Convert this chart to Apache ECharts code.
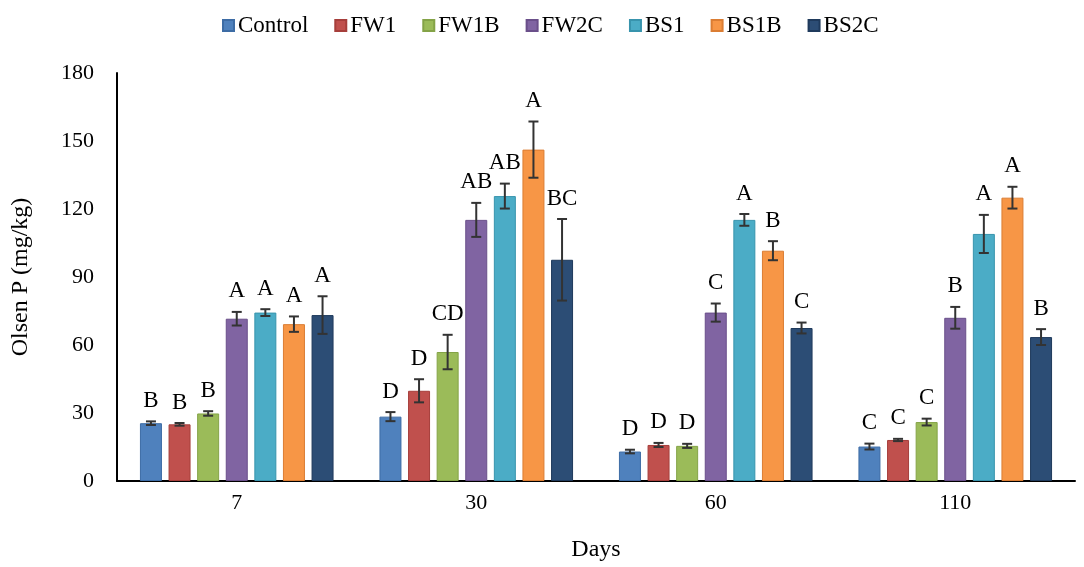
<!DOCTYPE html>
<html>
<head>
<meta charset="utf-8">
<script src="https://cdn.jsdelivr.net/npm/echarts@6/dist/echarts.min.js"></script>
<style>html,body{margin:0;padding:0;background:#fff}#c{width:1084px;height:567px}</style>
</head>
<body>
<div id="c"></div>
<script>
const categories = ['7', '30', '60', '110'];
const seriesNames = ['Control', 'FW1', 'FW1B', 'FW2C', 'BS1', 'BS1B', 'BS2C'];
const colors = ['#4F81BD', '#C0504D', '#9BBB59', '#8064A2', '#4BACC6', '#F79646', '#2C4D75'];
const borderColors = ['#3d6ca5', '#a63e3b', '#84a347', '#6a4f8a', '#3894ad', '#db7d33', '#1f3a5c'];

const Control = [25.5, 28.4, 13.0, 15.2];
const FW1     = [25.0, 39.8, 15.9, 18.1];
const FW1B    = [29.8, 56.9, 15.5, 26.0];
const FW2C    = [71.6, 115.2, 74.3, 72.0];
const BS1     = [74.3, 125.7, 115.2, 109.0];
const BS1B    = [69.2, 146.2, 101.6, 125.0];
const BS2C    = [73.2, 97.6, 67.5, 63.5];

const errControl = [0.8, 2.0, 0.8, 1.3];
const errFW1     = [0.6, 5.1, 0.9, 0.5];
const errFW1B    = [1.0, 7.6, 0.9, 1.5];
const errFW2C    = [3.0, 7.5, 4.0, 4.8];
const errBS1     = [1.5, 5.5, 2.6, 8.4];
const errBS1B    = [3.4, 12.4, 4.2, 4.8];
const errBS2C    = [8.3, 18.0, 2.4, 3.5];

const letControl = ['B', 'D', 'D', 'C'];
const letFW1     = ['B', 'D', 'D', 'C'];
const letFW1B    = ['B', 'CD', 'D', 'C'];
const letFW2C    = ['A', 'AB', 'C', 'B'];
const letBS1     = ['A', 'AB', 'A', 'A'];
const letBS1B    = ['A', 'A', 'B', 'A'];
const letBS2C    = ['A', 'BC', 'C', 'B'];

const values = [Control, FW1, FW1B, FW2C, BS1, BS1B, BS2C];
const errors = [errControl, errFW1, errFW1B, errFW2C, errBS1, errBS1B, errBS2C];
const letters = [letControl, letFW1, letFW1B, letFW2C, letBS1, letBS1B, letBS2C];

const FONT = '"Liberation Serif", "Times New Roman", serif';
const BAR_W = 22;
const BAR_GAP = 0.3;

const errData = [];
values.forEach((arr, si) => {
  arr.forEach((v, ci) => {
    errData.push([ci, si, v, errors[si][ci], letters[si][ci]]);
  });
});

const chart = echarts.init(document.getElementById('c'));
const barSeries = seriesNames.map((name, i) => ({
  name: name,
  type: 'bar',
  data: values[i],
  barWidth: BAR_W,
  barGap: (BAR_GAP * 100) + '%',
  itemStyle: { color: colors[i], borderColor: borderColors[i], borderWidth: 1 },
  z: 2
}));

chart.setOption({
  animation: false,
  legend: {
    data: seriesNames.map(n => ({ name: n, icon: 'rect' })),
    left: 217,
    top: 9,
    itemWidth: 11,
    itemHeight: 11,
    itemGap: 26,
    textStyle: { fontFamily: FONT, fontSize: 23, color: '#000', padding: [0, 0, 0, -1] }
  },
  grid: { left: 117, right: 9, top: 73, bottom: 84, containLabel: false },
  xAxis: {
    type: 'category',
    data: categories,
    name: 'Days',
    nameLocation: 'middle',
    nameGap: 57,
    nameTextStyle: { fontFamily: FONT, fontSize: 24, color: '#000' },
    axisLine: { lineStyle: { color: '#000', width: 2 } },
    axisTick: { show: false },
    axisLabel: { fontFamily: FONT, fontSize: 22, color: '#000', margin: 11 }
  },
  yAxis: {
    type: 'value',
    min: 0, max: 180, interval: 30,
    name: 'Olsen P (mg/kg)',
    nameLocation: 'middle',
    nameGap: 84,
    nameTextStyle: { fontFamily: FONT, fontSize: 24, color: '#000' },
    axisLine: { show: true, lineStyle: { color: '#000', width: 2 } },
    axisTick: { show: false },
    splitLine: { show: false },
    axisLabel: { fontFamily: FONT, fontSize: 22, color: '#000', margin: 23 }
  },
  series: barSeries.concat([{
    type: 'custom',
    data: errData,
    z: 5,
    encode: { x: 0, y: 2 },
    renderItem: function (params, api) {
      const ci = api.value(0), si = api.value(1), v = api.value(2), e = api.value(3);
      const letter = errData[params.dataIndex][4];
      const center = api.coord([ci, 0]);
      const step = BAR_W * (1 + BAR_GAP);
      const x = center[0] + (si - (seriesNames.length - 1) / 2) * step;
      const yTop = api.coord([ci, v + e])[1];
      const yBot = api.coord([ci, v - e])[1];
      const cap = 5;
      const st = { stroke: '#333', lineWidth: 2 };
      return {
        type: 'group',
        children: [
          { type: 'line', shape: { x1: x, y1: yTop, x2: x, y2: yBot }, style: st },
          { type: 'line', shape: { x1: x - cap, y1: yTop, x2: x + cap, y2: yTop }, style: st },
          { type: 'line', shape: { x1: x - cap, y1: yBot, x2: x + cap, y2: yBot }, style: st },
          { type: 'text', x: x, y: yTop - 9, style: { text: letter, fontFamily: FONT, fontSize: 23, fill: '#000', textAlign: 'center', textVerticalAlign: 'bottom' } }
        ]
      };
    }
  }])
});
</script>
</body>
</html>
